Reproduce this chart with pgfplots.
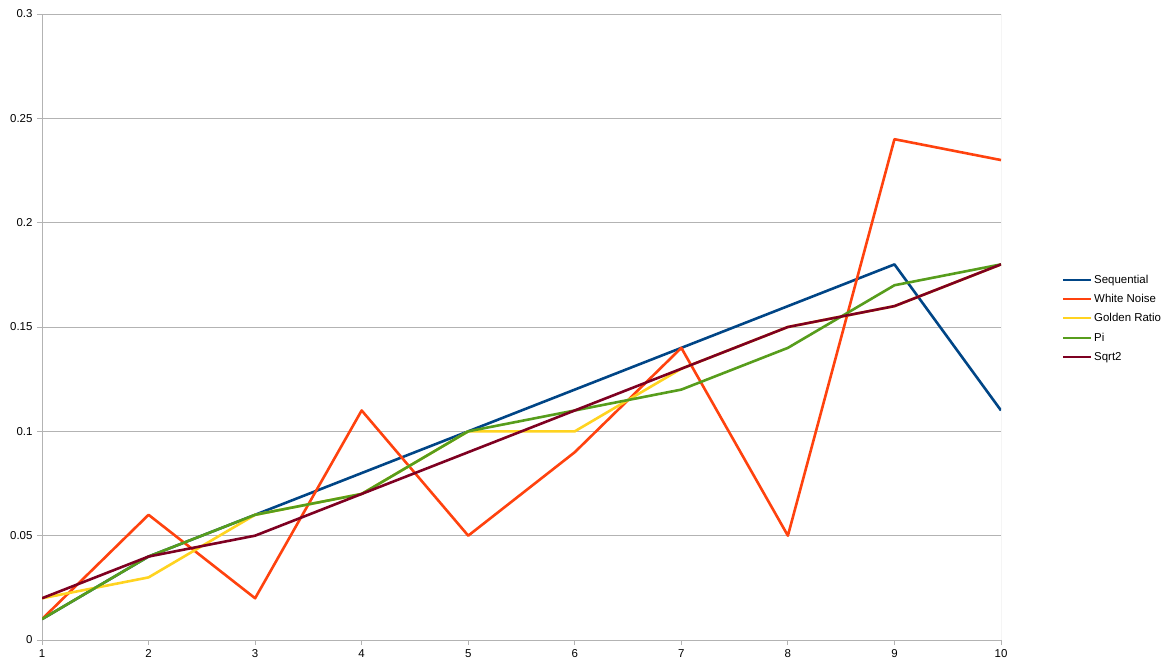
\documentclass[border=0pt]{standalone}
\usepackage{pgfplots}
\pgfplotsset{compat=1.18}
\usepackage{fontspec}
\setmainfont{Liberation Sans}
\definecolor{cseq}{HTML}{004586}
\definecolor{cwn}{HTML}{FF420E}
\definecolor{cgr}{HTML}{FFD320}
\definecolor{cpi}{HTML}{579D1C}
\definecolor{csq}{HTML}{7E0021}
\definecolor{gridc}{HTML}{B3B3B3}
\begin{document}
\begin{tikzpicture}
\path[use as bounding box] (0,0) rectangle (1170bp,667bp);
\begin{axis}[
  at={(42bp,27bp)}, anchor=south west,
  scale only axis, width=959bp, height=626bp,
  xmin=1, xmax=10, ymin=0, ymax=0.3,
  xtick={1,...,10},
  ytick={0,0.05,0.1,0.15,0.2,0.25,0.3},
  scaled y ticks=false,
  yticklabel style={/pgf/number format/fixed,/pgf/number format/precision=2},
  /pgf/number format/assume math mode=true,
  ymajorgrids, grid style={gridc, line width=0.8bp},
  axis line style={gridc, line width=0.8bp},
  axis x line*=bottom, axis y line*=left,
  tick style={gridc, line width=0.8bp},
  tick align=outside, major tick length=5bp,
  ticklabel style={font=\fontsize{11.5}{13}\selectfont, text=black},
  xticklabel style={yshift=-1bp},
  yticklabel style={xshift=-1bp},
  every axis plot/.append style={line width=2.6bp, line join=round, no marks},
  legend style={draw=none, fill=none, at={(1.0636,0.514)}, anchor=west,
    font=\fontsize{11.5}{13}\selectfont, row sep=5.6bp, inner sep=0pt},
  legend cell align=left,
  legend image code/.code={\draw[#1, line width=2bp] (0bp,0bp) -- (28bp,0bp);},
]
\draw[gridc, line width=0.8bp] (rel axis cs:1,0) -- (rel axis cs:1,1);
\addplot[cseq] coordinates {(1,0.01)(2,0.04)(3,0.06)(4,0.08)(5,0.10)(6,0.12)(7,0.14)(8,0.16)(9,0.18)(10,0.11)};
\addplot[cwn] coordinates {(1,0.01)(2,0.06)(3,0.02)(4,0.11)(5,0.05)(6,0.09)(7,0.14)(8,0.05)(9,0.24)(10,0.23)};
\addplot[cgr] coordinates {(1,0.02)(2,0.03)(3,0.06)(4,0.07)(5,0.10)(6,0.10)(7,0.13)(8,0.15)(9,0.16)(10,0.18)};
\addplot[cpi] coordinates {(1,0.01)(2,0.04)(3,0.06)(4,0.07)(5,0.10)(6,0.11)(7,0.12)(8,0.14)(9,0.17)(10,0.18)};
\addplot[csq] coordinates {(1,0.02)(2,0.04)(3,0.05)(4,0.07)(5,0.09)(6,0.11)(7,0.13)(8,0.15)(9,0.16)(10,0.18)};
\legend{Sequential,White Noise,Golden Ratio,Pi,Sqrt2}
\end{axis}
\end{tikzpicture}
\end{document}
